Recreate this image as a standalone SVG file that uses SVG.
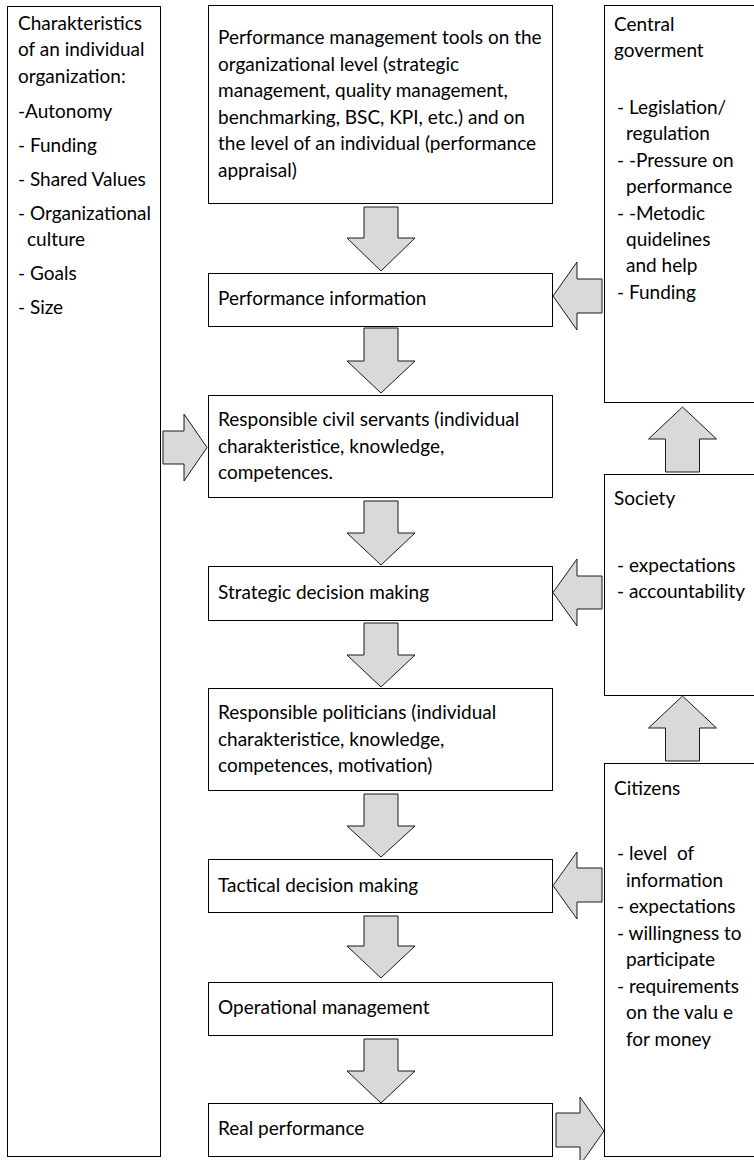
<svg xmlns="http://www.w3.org/2000/svg" width="754" height="1160" viewBox="0 0 754 1160">
<style>
.box{fill:#fff;stroke:#000;stroke-width:1}
.arr{fill:#d9d9d9;stroke:#1a1a1a;stroke-width:1;stroke-linejoin:miter}
text{font-family:Lato,"Liberation Sans",sans-serif;font-size:19px;fill:#000}
</style>
<rect width="754" height="1160" fill="#fff"/>
<g id="org-characteristics">
<rect class="box" x="7.5" y="6.5" width="153" height="1150"/>
<text x="18" y="30">Charakteristics</text>
<text x="18" y="56.4">of an individual</text>
<text x="18" y="82.8">organization:</text>
<text x="18" y="118">-Autonomy</text>
<text x="18" y="152">- Funding</text>
<text x="18" y="186">- Shared Values</text>
<text x="18" y="220">- Organizational</text>
<text x="27" y="246.4">culture</text>
<text x="18" y="280.4">- Goals</text>
<text x="18" y="314.4">- Size</text>
</g>
<g id="pm-tools">
<rect class="box" x="208.5" y="5.5" width="344" height="198"/>
<text x="218" y="44">Performance management tools on the</text>
<text x="218" y="70.5">organizational level (strategic</text>
<text x="218" y="97">management, quality management,</text>
<text x="218" y="123.5">benchmarking, BSC, KPI, etc.) and on</text>
<text x="218" y="150">the level of an individual (performance</text>
<text x="218" y="176.5">appraisal)</text>
</g>
<g id="perf-info">
<rect class="box" x="208.5" y="273.5" width="344" height="53"/>
<text x="218" y="305">Performance information</text>
</g>
<g id="civil-servants">
<rect class="box" x="208.5" y="395.5" width="344" height="102"/>
<text x="218" y="426">Responsible civil servants (individual</text>
<text x="218" y="452.5">charakteristice, knowledge,</text>
<text x="218" y="479">competences.</text>
</g>
<g id="strategic">
<rect class="box" x="208.5" y="566.5" width="344" height="54"/>
<text x="218" y="599">Strategic decision making</text>
</g>
<g id="politicians">
<rect class="box" x="208.5" y="688.5" width="344" height="102"/>
<text x="218" y="719">Responsible politicians (individual</text>
<text x="218" y="745.5">charakteristice, knowledge,</text>
<text x="218" y="772">competences, motivation)</text>
</g>
<g id="tactical">
<rect class="box" x="208.5" y="859.5" width="344" height="53"/>
<text x="218" y="892">Tactical decision making</text>
</g>
<g id="operational">
<rect class="box" x="208.5" y="982.5" width="344" height="53"/>
<text x="218" y="1014">Operational management</text>
</g>
<g id="real-performance">
<rect class="box" x="208.5" y="1103.5" width="344" height="53"/>
<text x="218" y="1135">Real performance</text>
</g>
<g id="central-government">
<rect class="box" x="604.5" y="5.5" width="160" height="397"/>
<text x="614" y="31">Central</text>
<text x="614" y="57.4">goverment</text>
<text x="617" y="114">- Legislation/</text>
<text x="626" y="140.4">regulation</text>
<text x="617" y="166.8">- -Pressure on</text>
<text x="626" y="193.2">performance</text>
<text x="617" y="219.6">- -Metodic</text>
<text x="626" y="246">quidelines</text>
<text x="626" y="272.4">and help</text>
<text x="617" y="298.8">- Funding</text>
</g>
<g id="society">
<rect class="box" x="604.5" y="474.5" width="160" height="221"/>
<text x="614" y="505">Society</text>
<text x="617" y="572">- expectations</text>
<text x="617" y="598">- accountability</text>
</g>
<g id="citizens">
<rect class="box" x="604.5" y="763.5" width="160" height="393"/>
<text x="614" y="795">Citizens</text>
<text x="617" y="860" style="white-space:pre">- level  of</text>
<text x="626" y="886.5">information</text>
<text x="617" y="913">- expectations</text>
<text x="617" y="939.5">- willingness to</text>
<text x="626" y="966">participate</text>
<text x="617" y="992.5">- requirements</text>
<text x="626" y="1019">on the valu e</text>
<text x="626" y="1045.5">for money</text>
</g>
<g id="connectors">
<polygon class="arr" points="364,207 398,207 398,238 415,238 381,271 347,238 364,238"/>
<polygon class="arr" points="364,328 398,328 398,361 415,361 381,393 347,361 364,361"/>
<polygon class="arr" points="364,501 398,501 398,533 415,533 381,565 347,533 364,533"/>
<polygon class="arr" points="364,623 398,623 398,655 415,655 381,687 347,655 364,655"/>
<polygon class="arr" points="364,794 398,794 398,826 415,826 381,857 347,826 364,826"/>
<polygon class="arr" points="364,916 398,916 398,946 415,946 381,978 347,946 364,946"/>
<polygon class="arr" points="364,1039 398,1039 398,1071 415,1071 381,1103 347,1071 364,1071"/>
<polygon class="arr" points="602,279 577,279 577,262 553,296 577,330 577,313 602,313"/>
<polygon class="arr" points="602,576 577,576 577,559 553,592.5 577,626 577,609 602,609"/>
<polygon class="arr" points="602,868 577,868 577,852 553,885.5 577,919 577,902 602,902"/>
<polygon class="arr" points="163,431 184,431 184,414 207,447.5 184,481 184,464 163,464"/>
<polygon class="arr" points="665.5,472 665.5,439 648.5,439 682.5,407 716.5,439 699.5,439 699.5,472"/>
<polygon class="arr" points="665.5,761 665.5,728 648.5,728 682.5,696 716.5,728 699.5,728 699.5,761"/>
<polygon class="arr" points="556,1113 580,1113 580,1097 604,1131 580,1165 580,1147 556,1147"/>
</g>
</svg>
